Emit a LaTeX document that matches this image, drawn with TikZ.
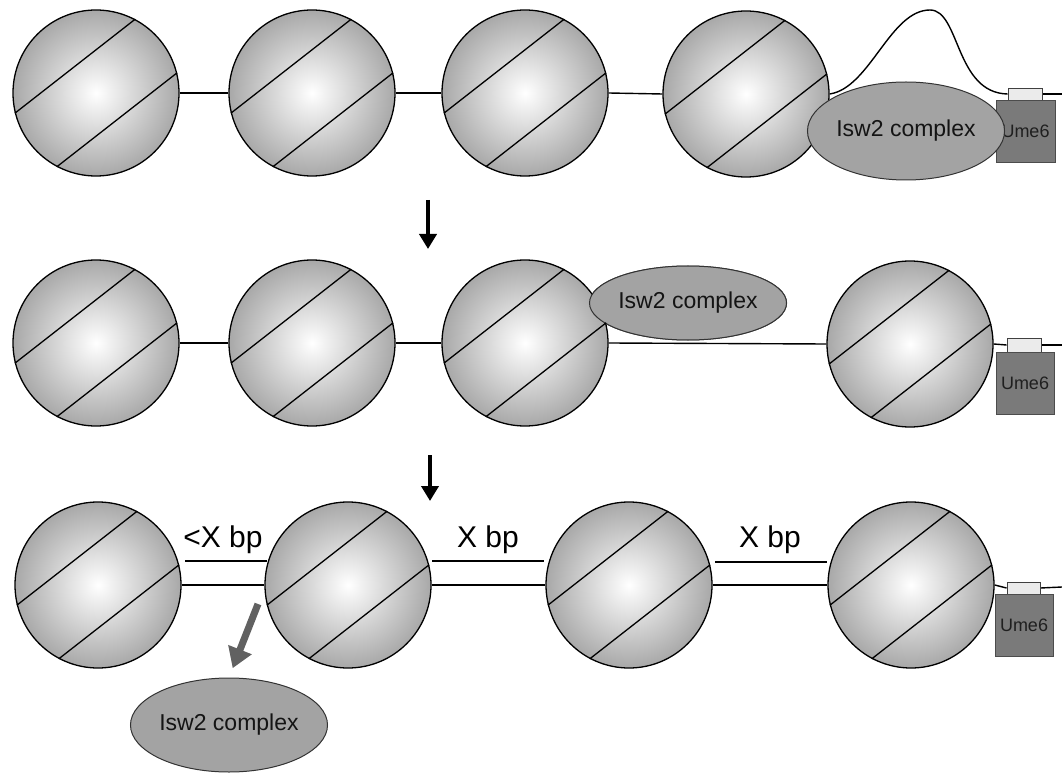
\documentclass[tikz,border=0pt]{standalone}
\usepackage{fontspec}
\newfontfamily\labelfont{Liberation Sans}
\usetikzlibrary{arrows.meta,shapes.geometric}

\tikzset{
  nuc/.style={circle, draw=black, line width=1.3pt, minimum size=166pt, inner sep=0pt,
    shading=radial, inner color=white, outer color=black!34},
  wrap/.style={line width=1.3pt, black},
  dna/.style={line width=1.4pt, black},
  cplx/.style={ellipse, draw=black!80, line width=1pt, fill=black!36,
    font=\labelfont\fontsize{23}{26}\selectfont, text=black!92, inner sep=0pt},
  umebox/.style={rectangle, draw=black!70, line width=0.8pt, fill=black!52, inner sep=0pt,
    font=\labelfont\fontsize{18}{21}\selectfont, text=black!88},
  tagbox/.style={rectangle, draw=black!75, line width=0.8pt, fill=black!8, inner sep=0pt},
  gaplabel/.style={font=\labelfont\fontsize{30}{34}\selectfont, anchor=base, inner sep=0pt},
  gapline/.style={line width=1.6pt, black},
  stage/.style={line width=3.8pt, black, -{Triangle[width=17pt,length=15pt]}},
  release/.style={line width=7pt, black!62, -{Triangle[width=24pt,length=20pt]}}
}

\begin{document}
\begin{tikzpicture}[x=1pt, y=-1pt]
\useasboundingbox (0,0) rectangle (1062,775);

% ---------------- row 1: complex bound next to Ume6 ----------------
\node[nuc] (a1) at (96,93) {};
\node[nuc] (a2) at (312,93) {};
\node[nuc] (a3) at (525,93) {};
\node[nuc] (a4) at (746,94) {};
\node[tagbox, minimum width=34pt, minimum height=12pt] (at) at (1025,94) {};
\coordinate (aend) at (1062,94);
\draw[dna] (a1.east) -- (a2.west);
\draw[dna] (a2.east) -- (a3.west);
\draw[dna] (a3.east) -- (a4.west);
\draw[dna] (a4.east) .. controls (870,88) and (890,10) .. (930,10)
                     .. controls (960,10) and (955,93) .. (at.west);
\draw[dna] (at.east) -- (aend);
\node[tagbox, minimum width=34pt, minimum height=12pt] at (at) {};
\node[umebox, minimum width=59pt, minimum height=62pt] (au) at (1025.5,131) {Ume6};
\node[cplx, minimum width=182pt, minimum height=98pt] (ac) at (906,131) {Isw2 complex};

% ---------------- row 2: complex slides the nucleosome ----------------
\node[nuc] (b1) at (96,343) {};
\node[nuc] (b2) at (312,343) {};
\node[cplx, minimum width=190pt, minimum height=74pt] (bc) at (688,303) {Isw2 complex};
\node[nuc] (b3) at (525,343) {};
\node[nuc] (b4) at (910,344) {};
\node[tagbox, minimum width=34pt, minimum height=14pt] (bt) at (1024,345) {};
\coordinate (bend) at (1062,345);
\draw[dna] (b1.east) -- (b2.west);
\draw[dna] (b2.east) -- (b3.west);
\draw[dna] (b3.east) -- (b4.west);
\draw[dna] (b4.east) -- (bt.west);
\draw[dna] (bt.east) -- (bend);
\node[tagbox, minimum width=34pt, minimum height=14pt] at (bt) {};
\node[umebox, minimum width=58pt, minimum height=62pt] (bu) at (1025,383) {Ume6};
\node[cplx, minimum width=190pt, minimum height=74pt] at (bc) {Isw2 complex};

% ---------------- row 3: spaced array, complex released ----------------
\node[nuc] (c1) at (98,585) {};
\node[nuc] (c2) at (348,585) {};
\node[nuc] (c3) at (629,585) {};
\node[nuc] (c4) at (911,585) {};
\node[tagbox, minimum width=33pt, minimum height=12pt] (ct) at (1023.5,588) {};
\coordinate (cend) at (1062,587);
\draw[dna] (c1.east) -- (c2.west);
\draw[dna] (c2.east) -- (c3.west);
\draw[dna] (c3.east) -- (c4.west);
\draw[dna] (c4.east) -- (ct.west);
\draw[dna] (ct.east) -- (cend);
\node[tagbox, minimum width=33pt, minimum height=12pt] at (ct) {};
\node[umebox, minimum width=58pt, minimum height=62pt] (cu) at (1024,625) {Ume6};
\node[cplx, minimum width=188pt, minimum height=94pt] (cc) at (229,725) {Isw2 complex};

% histone wrapping lines on every nucleosome
\foreach \n in {a1,a2,a3,a4,b1,b2,b3,b4,c1,c2,c3,c4}{
  \draw[wrap] (\n.14) -- (\n.242);
  \draw[wrap] (\n.62) -- (\n.194);
}

% linker length labels
\node[gaplabel] (g1) at (223,547) {<X bp};
\node[gaplabel] (g2) at (488,547) {X bp};
\node[gaplabel] (g3) at (770,547) {X bp};
\coordinate (g1a) at (185,561); \coordinate (g1b) at (267,561);
\coordinate (g2a) at (432,561); \coordinate (g2b) at (544,561);
\coordinate (g3a) at (715,562); \coordinate (g3b) at (827,562);
\draw[gapline] (g1a) -- (g1b);
\draw[gapline] (g2a) -- (g2b);
\draw[gapline] (g3a) -- (g3b);

% step arrows
\coordinate (s1a) at (428,200); \coordinate (s1b) at (428,249);
\coordinate (s2a) at (430,455); \coordinate (s2b) at (430,501);
\draw[stage] (s1a) -- (s1b);
\draw[stage] (s2a) -- (s2b);

% release of the complex
\coordinate (r1) at (258,604);
\draw[release, shorten >=10pt] (r1) -- (cc.north);
\end{tikzpicture}
\end{document}
